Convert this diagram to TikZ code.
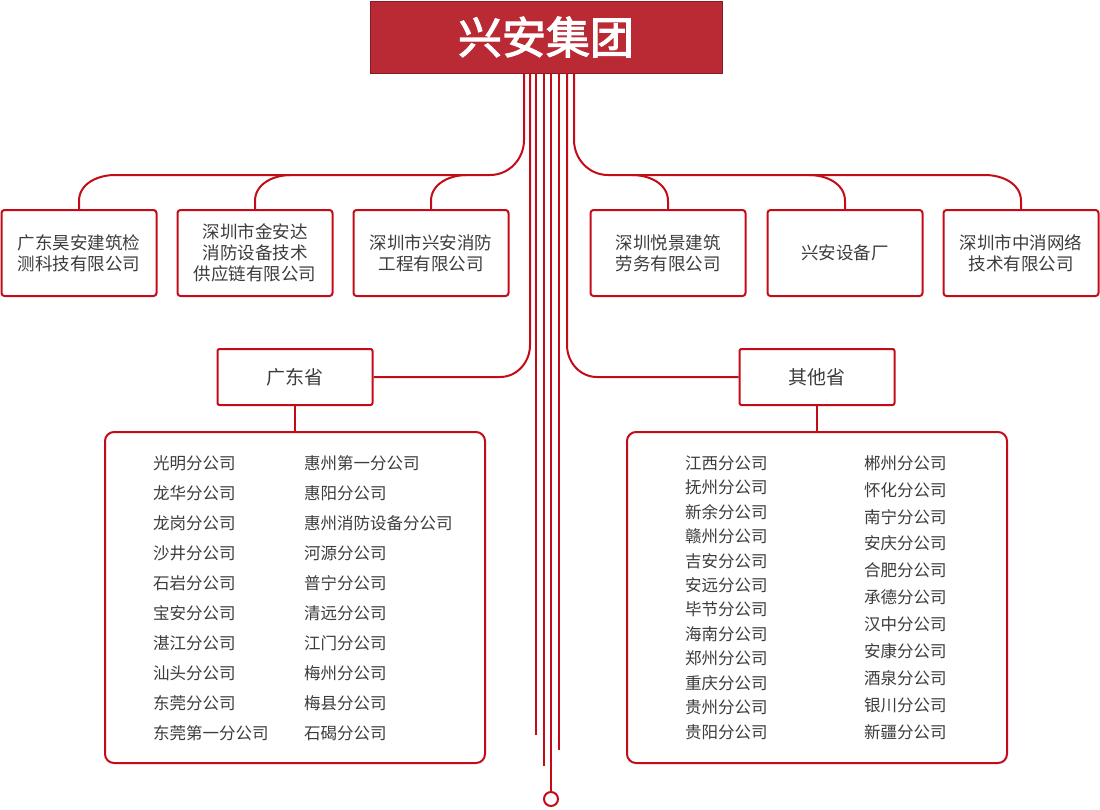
\documentclass[tikz,border=0pt]{standalone}
\usepackage{fontspec}
\setmainfont{Noto Sans CJK SC}
\newfontfamily\titlefont[FakeBold=2.5]{Noto Sans CJK SC}
\begin{document}
\begin{tikzpicture}[x=1pt,y=-1pt,
  red/.style={draw=lr,line width=2pt},
  co/.style={red,rounded corners=3pt,minimum width=155pt,minimum height=86pt,inner sep=0,align=center,font=\fontsize{17.5}{21}\selectfont,text=tg},
  prov/.style={red,rounded corners=2pt,minimum width=155pt,minimum height=56pt,inner sep=0,font=\fontsize{19}{22}\selectfont,text=tg},
  big/.style={red,rounded corners=9pt,minimum width=380pt,minimum height=331pt,inner sep=0},
  it/.style={anchor=west,inner sep=0,font=\fontsize{16.5}{18}\selectfont,text=tg},
  ln/.style={draw=lr,line width=2pt}]
\definecolor{lr}{RGB}{196,12,24}
\definecolor{tg}{RGB}{60,60,60}
\definecolor{tb}{RGB}{185,42,52}
\useasboundingbox (0,0) rectangle (1100,809);
\node[fill=tb,draw=tb!70!black,line width=1pt,minimum width=352pt,minimum height=72pt,inner sep=0,text=white,font=\titlefont\fontsize{44}{48}\selectfont] (t) at (546,37) {兴安集团};
% trunk lines
\foreach \x/\e/\n in {536/735/a,544/766/b,559/750/c} \draw[ln] (\x,73) -- (\x,\e) coordinate (e\n);
\node[draw=lr,line width=2pt,circle,minimum size=14pt,inner sep=0] (ring) at (551,799) {};
\draw[ln] (551,73) -- (ring.north);
% companies
\node[co] (c1) at (79,253) {广东昊安建筑检\\测科技有限公司};
\node[co] (c2) at (255,253) {深圳市金安达\\消防设备技术\\供应链有限公司};
\node[co] (c3) at (431,253) {深圳市兴安消防\\工程有限公司};
\node[co] (c4) at (668,253) {深圳悦景建筑\\劳务有限公司};
\node[co] (c5) at (845,253) {兴安设备厂};
\node[co] (c6) at (1021,253) {深圳市中消网络\\技术有限公司};
\draw[ln] (524,73) -- (524,140) to[out=-90,in=0] (490,175) -- (115,175);
\draw[ln] (574,73) -- (574,140) to[out=-90,in=180] (608,175) -- (985,175);
\draw[ln] (c1.north) -- ++(0,-8) to[out=90,in=180] (115,175);
\draw[ln] (c2.north) -- ++(0,-8) to[out=90,in=180] (291,175);
\draw[ln] (c3.north) -- ++(0,-8) to[out=90,in=180] (467,175);
\draw[ln] (c4.north) -- ++(0,-8) to[out=90,in=0] (632,175);
\draw[ln] (c5.north) -- ++(0,-8) to[out=90,in=0] (809,175);
\draw[ln] (c6.north) -- ++(0,-8) to[out=90,in=0] (985,175);
% provinces
\node[prov] (gd) at (295,377) {广东省};
\node[prov] (qt) at (817,377) {其他省};
\draw[ln] (530,73) -- (530,345) to[out=-90,in=0] (500,377) -- (gd.east);
\draw[ln] (567,73) -- (567,345) to[out=-90,in=180] (597,377) -- (qt.west);
\node[big] (L) at (295,597.5) {};
\node[big] (R) at (817,597.5) {};
\draw[ln] (gd.south) -- (L.north);
\draw[ln] (qt.south) -- (R.north);
\foreach \t [count=\i from 0] in {光明分公司,龙华分公司,龙岗分公司,沙井分公司,石岩分公司,宝安分公司,湛江分公司,汕头分公司,东莞分公司,东莞第一分公司}
  \node[it] (la\i) at (153,463+30*\i) {\t};
\foreach \t [count=\i from 0] in {惠州第一分公司,惠阳分公司,惠州消防设备分公司,河源分公司,普宁分公司,清远分公司,江门分公司,梅州分公司,梅县分公司,石碣分公司}
  \node[it] (lb\i) at (304,463+30*\i) {\t};
\foreach \t [count=\i from 0] in {江西分公司,抚州分公司,新余分公司,赣州分公司,吉安分公司,安远分公司,毕节分公司,海南分公司,郑州分公司,重庆分公司,贵州分公司,贵阳分公司}
  \node[it] (ra\i) at (685,463+24.45*\i) {\t};
\foreach \t [count=\i from 0] in {郴州分公司,怀化分公司,南宁分公司,安庆分公司,合肥分公司,承德分公司,汉中分公司,安康分公司,酒泉分公司,银川分公司,新疆分公司}
  \node[it] (rb\i) at (864,463+26.9*\i) {\t};
\end{tikzpicture}
\end{document}
